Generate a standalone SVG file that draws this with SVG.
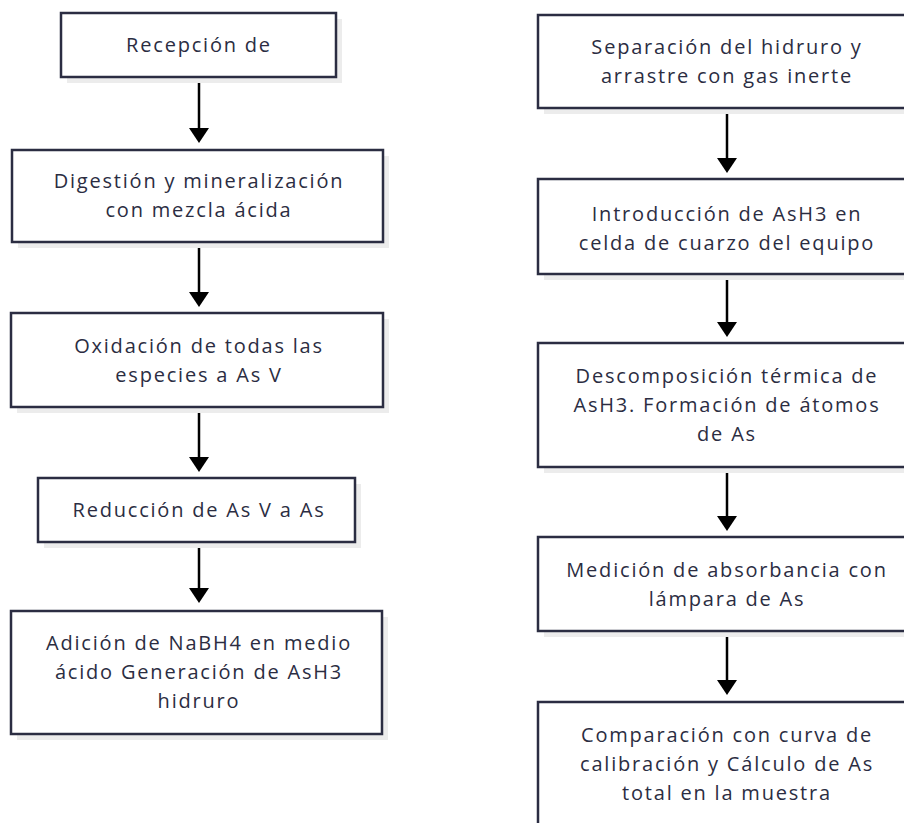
<svg xmlns="http://www.w3.org/2000/svg" width="904" height="823" viewBox="0 0 904 823">
<style>
  .box{fill:#ffffff;stroke:#2b2d42;stroke-width:2.5}
  .sh{fill:#ececec}
  .t{font-family:"Open Sans","Noto Sans","Liberation Sans",sans-serif;font-size:20px;fill:#2b2d42;text-anchor:middle;letter-spacing:1.8px}
  .c{stroke:#000;stroke-width:2.5;fill:none}
</style>
<defs>
  <marker id="ah" viewBox="0 0 15 20" refX="0" refY="10" markerUnits="userSpaceOnUse" markerWidth="15" markerHeight="20" orient="auto">
    <path d="M0,0 L15,10 L0,20 z" fill="#000"/>
  </marker>
</defs>
<rect width="904" height="823" fill="#ffffff"/>
<g id="connectors">
  <line class="c" x1="199" y1="77" x2="199" y2="128" marker-end="url(#ah)"/>
  <line class="c" x1="199" y1="242" x2="199" y2="292" marker-end="url(#ah)"/>
  <line class="c" x1="199" y1="407" x2="199" y2="457" marker-end="url(#ah)"/>
  <line class="c" x1="199" y1="542" x2="199" y2="588" marker-end="url(#ah)"/>
  <line class="c" x1="727" y1="108" x2="727" y2="158" marker-end="url(#ah)"/>
  <line class="c" x1="727" y1="274" x2="727" y2="322" marker-end="url(#ah)"/>
  <line class="c" x1="727" y1="467" x2="727" y2="516" marker-end="url(#ah)"/>
  <line class="c" x1="727" y1="631" x2="727" y2="680" marker-end="url(#ah)"/>
</g>
<g id="n1">
  <rect class="sh" x="67" y="19" width="275" height="64"/>
  <rect class="box" x="61" y="13" width="275" height="64"/>
  <text class="t" x="199" y="52">Recepción de</text>
</g>
<g id="n2">
  <rect class="sh" x="18" y="156" width="371" height="92"/>
  <rect class="box" x="12" y="150" width="371" height="92"/>
  <text class="t" x="199" y="188">Digestión y mineralización</text>
  <text class="t" x="199" y="217">con mezcla ácida</text>
</g>
<g id="n3">
  <rect class="sh" x="17" y="319" width="372" height="94"/>
  <rect class="box" x="11" y="313" width="372" height="94"/>
  <text class="t" x="199" y="353">Oxidación de todas las</text>
  <text class="t" x="199" y="382">especies a As V</text>
</g>
<g id="n4">
  <rect class="sh" x="44" y="484" width="317" height="64"/>
  <rect class="box" x="38" y="478" width="317" height="64"/>
  <text class="t" x="199" y="517">Reducción de As V a As</text>
</g>
<g id="n5">
  <rect class="sh" x="17" y="617" width="371" height="123"/>
  <rect class="box" x="11" y="611" width="371" height="123"/>
  <text class="t" x="199" y="650">Adición de NaBH4 en medio</text>
  <text class="t" x="199" y="679">ácido Generación de AsH3</text>
  <text class="t" x="199" y="708">hidruro</text>
</g>
<g id="n6">
  <rect class="sh" x="544" y="21" width="378" height="93"/>
  <rect class="box" x="538" y="15" width="378" height="93"/>
  <text class="t" x="727" y="54">Separación del hidruro y</text>
  <text class="t" x="727" y="83">arrastre con gas inerte</text>
</g>
<g id="n7">
  <rect class="sh" x="544" y="185" width="378" height="95"/>
  <rect class="box" x="538" y="179" width="378" height="95"/>
  <text class="t" x="727" y="221">Introducción de AsH3 en</text>
  <text class="t" x="727" y="250">celda de cuarzo del equipo</text>
</g>
<g id="n8">
  <rect class="sh" x="544" y="349" width="378" height="124"/>
  <rect class="box" x="538" y="343" width="378" height="124"/>
  <text class="t" x="727" y="383">Descomposición térmica de</text>
  <text class="t" x="727" y="412">AsH3. Formación de átomos</text>
  <text class="t" x="727" y="441">de As</text>
</g>
<g id="n9">
  <rect class="sh" x="544" y="543" width="378" height="94"/>
  <rect class="box" x="538" y="537" width="378" height="94"/>
  <text class="t" x="727" y="577">Medición de absorbancia con</text>
  <text class="t" x="727" y="606">lámpara de As</text>
</g>
<g id="n10">
  <rect class="sh" x="544" y="708" width="378" height="126"/>
  <rect class="box" x="538" y="702" width="378" height="126"/>
  <text class="t" x="727" y="742">Comparación con curva de</text>
  <text class="t" x="727" y="771">calibración y Cálculo de As</text>
  <text class="t" x="727" y="800">total en la muestra</text>
</g>
</svg>
